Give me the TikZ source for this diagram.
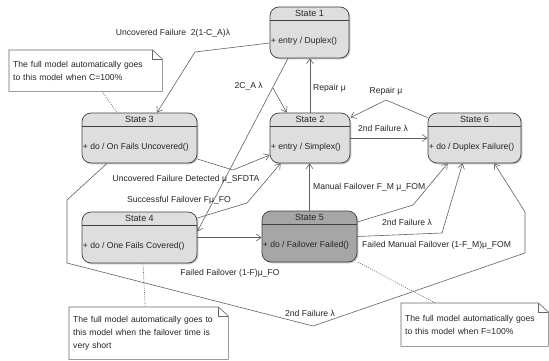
\documentclass[tikz,border=0pt]{standalone}
\usepackage{fontspec}
\setmainfont{Liberation Sans}
\usetikzlibrary{arrows.meta,shadows,calc,backgrounds}
\tikzset{
  statebox/.style={draw=black!75, fill=black!13, rounded corners=9pt, line width=0.7pt,
    drop shadow={shadow xshift=1.3pt, shadow yshift=-1.3pt, opacity=0.45}},
  darkstate/.style={statebox, fill=black!35},
  hdrline/.style={draw=black!75, line width=0.6pt},
  titletext/.style={inner sep=0pt, font=\fontsize{9}{11}\selectfont, text=black!85},
  bodytext/.style={inner xsep=1pt, inner ysep=0pt, text=black!85, anchor=west},
  tr/.style={draw=black!62, line width=0.6pt, -{Straight Barb[length=5pt,width=7pt]}},
  lbl/.style={inner sep=1pt, text=black!85},
  notebox/.style={anchor=north west, inner xsep=4pt, inner ysep=0pt, align=left, text=black!85},
  noteline/.style={draw=black!60, line width=0.6pt},
  dotline/.style={draw=black!60, line width=0.6pt, dash pattern=on 1pt off 1.2pt}
}
\newcommand\stateparts[3]{%
  \draw[hdrline] ([yshift=-14pt]#1.north west) -- ([yshift=-14pt]#1.north east);
  \node[titletext] (#1t) at ([yshift=-7pt]#1.north) {#2};
  \node[bodytext] (#1b) at ([yshift=-9pt]#1.west) {#3};
}
\newcommand\noteoutline[1]{%
  \draw[noteline] (#1.north west) -- ([xshift=-10pt]#1.north east) -- ([yshift=-9pt]#1.north east) -- (#1.south east) -- (#1.south west) -- cycle;
  \draw[noteline] ([xshift=-10pt]#1.north east) -- ([xshift=-10pt,yshift=-9pt]#1.north east) -- ([yshift=-9pt]#1.north east);
}
\begin{document}
\begin{tikzpicture}[x=1pt,y=-1pt,font=\fontsize{8.6}{13}\selectfont]
\fill[white] (0,0) rectangle (549,361);
\useasboundingbox (0,0) rectangle (549,361);

% states
\node[statebox, minimum width=79pt, minimum height=51pt] (s1) at (309.5,32.5) {};
\node[statebox, minimum width=80pt, minimum height=50pt] (s2) at (310,138) {};
\node[statebox, minimum width=93pt, minimum height=50pt] (s6) at (474.5,138) {};
\node[statebox, minimum width=115pt, minimum height=50pt] (s3) at (139.5,138) {};
\node[statebox, minimum width=115pt, minimum height=51pt] (s4) at (139.5,237.5) {};
\node[darkstate, minimum width=95pt, minimum height=51pt] (s5) at (309.5,236.5) {};
\stateparts{s1}{State 1}{+ entry / Duplex()}
\stateparts{s2}{State 2}{+ entry / Simplex()}
\stateparts{s6}{State 6}{+ do / Duplex Failure()}
\stateparts{s3}{State 3}{+ do / On Fails Uncovered()}
\stateparts{s4}{State 4}{+ do / One Fails Covered()}
\stateparts{s5}{State 5}{+ do / Failover Failed()}

% transitions
\coordinate (b1) at (195,52);
\draw[tr] ([yshift=-10.5pt]s1.west) -- (b1) -- ([xshift=17.5pt]s3.north);
\node[lbl] (l1) at (173,33) {Uncovered Failure\ \ 2(1-C\_A)λ};

\draw[tr] ([xshift=-21.5pt]s1.south) -- ([yshift=6pt]s4.east);
\coordinate (b2) at (273,88);
\draw[tr] (b2) -- ([xshift=17pt]s2.north west);
\node[lbl, anchor=east] (l2) at (264,86) {2C\_A λ};

\draw[tr] (s2.north) -- (s2.north |- s1.south);
\node[lbl, anchor=west] (l3) at (312,88) {Repair μ};

\coordinate (b3) at (386,100);
\draw[tr] ([yshift=-5pt]s6.north west) -- (b3) -- ([yshift=-5pt]s2.north east);
\node[lbl] (l4) at (386,91) {Repair μ};

\draw[tr] (s2.east) -- (s2.east -| s6.west);
\node[lbl] (l5) at (383,128) {2nd Failure λ};

\coordinate (b4) at (233,170);
\draw[tr] ([yshift=-21pt]s3.east) -- (b4) -- ([yshift=-17pt]s2.west);
\node[lbl] (l6) at (186,179) {Uncovered Failure Detected μ\_SFDTA};

\coordinate (b5) at (247,203);
\draw[tr] ([yshift=19.5pt]s4.east) -- (b5) -- ([xshift=11pt]s2.south west);
\node[lbl] (l7) at (179,200) {Successful Failover Fμ\_FO};

\draw[tr] (s4.east) -- (s4.east -| s5.west);
\node[lbl] (l8) at (230,273) {Failed Failover (1-F)μ\_FO};

\draw[tr] (s5.north) -- (s5.north |- s2.south);
\node[lbl, anchor=west] (l9) at (312,187) {Manual Failover F\_M μ\_FOM};

\coordinate (b6) at (413,205);
\draw[tr] ([yshift=14.5pt]s5.east) -- (b6) -- ([xshift=20pt]s6.south west);
\node[lbl] (l10) at (407,222) {2nd Failure λ};

\coordinate (b7) at (442,233);
\draw[tr] (s5.east) -- (b7) -- ([xshift=35pt]s6.south west);
\node[lbl, anchor=west] (l11) at (361,245) {Failed Manual Failover (1-F\_M)μ\_FOM};

\coordinate (b8) at (67,200);
\coordinate (b9) at (67,263);
\coordinate (b10) at (313,326);
\coordinate (b11) at (525,253);
\coordinate (b12) at (525,212);
\draw[tr] ([xshift=-32.5pt]s3.south) -- (b8) -- (b9) -- (b10) -- (b11) -- (b12) -- ([xshift=-27pt]s6.south east);
\node[lbl] (l12) at (310,313) {2nd Failure λ};

% notes
\node[notebox, text width=145pt, minimum height=41pt] (n1) at (9,50) {The full model automatically goes\\to this model when C=100\%};
\noteoutline{n1}
\node[notebox, text width=151pt, minimum height=52pt] (n2) at (69,307) {The full model automatically goes to\\this model when the failover time is\\very short};
\noteoutline{n2}
\node[notebox, text width=139pt, minimum height=43pt] (n3) at (401,303) {The full model automatically goes\\to this model when F=100\%};
\noteoutline{n3}

\draw[dotline] ([xshift=16.5pt]n1.south) -- ([xshift=-22.5pt]s3.north);
\draw[dotline] ([xshift=3.5pt]s4.south) -- ([xshift=-3.5pt]n2.north);
\draw[dotline] ([xshift=1pt]s5.south east) -- ([xshift=-39.5pt]n3.north);
\end{tikzpicture}
\end{document}
